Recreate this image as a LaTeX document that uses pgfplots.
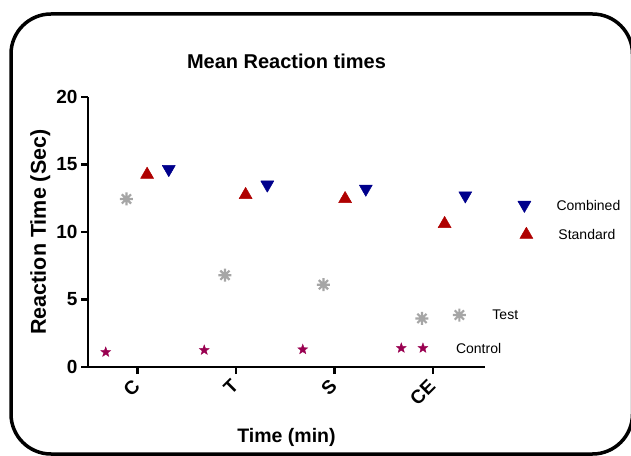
\documentclass[border=0pt]{standalone}
\usepackage{pgfplots}
\pgfplotsset{compat=1.18}
\usepackage{fontspec}
\setmainfont{Liberation Sans}

\definecolor{combblue}{RGB}{0,0,140}
\definecolor{stdred}{RGB}{175,0,0}
\definecolor{testgray}{RGB}{166,166,166}
\definecolor{ctrlpurple}{RGB}{153,0,80}

% filled five-point star
\pgfdeclareplotmark{fstar}{%
  \pgfpathmoveto{\pgfpointpolar{90}{\pgfplotmarksize}}%
  \pgfpathlineto{\pgfpointpolar{126}{0.42\pgfplotmarksize}}%
  \pgfpathlineto{\pgfpointpolar{162}{\pgfplotmarksize}}%
  \pgfpathlineto{\pgfpointpolar{198}{0.42\pgfplotmarksize}}%
  \pgfpathlineto{\pgfpointpolar{234}{\pgfplotmarksize}}%
  \pgfpathlineto{\pgfpointpolar{270}{0.42\pgfplotmarksize}}%
  \pgfpathlineto{\pgfpointpolar{306}{\pgfplotmarksize}}%
  \pgfpathlineto{\pgfpointpolar{342}{0.42\pgfplotmarksize}}%
  \pgfpathlineto{\pgfpointpolar{18}{\pgfplotmarksize}}%
  \pgfpathlineto{\pgfpointpolar{54}{0.42\pgfplotmarksize}}%
  \pgfpathclose
  \pgfusepathqfillstroke}

% eight-spoke asterisk
\pgfdeclareplotmark{burst}{%
  \pgfpathmoveto{\pgfpointpolar{0}{\pgfplotmarksize}}\pgfpathlineto{\pgfpointpolar{180}{\pgfplotmarksize}}%
  \pgfpathmoveto{\pgfpointpolar{45}{\pgfplotmarksize}}\pgfpathlineto{\pgfpointpolar{225}{\pgfplotmarksize}}%
  \pgfpathmoveto{\pgfpointpolar{90}{\pgfplotmarksize}}\pgfpathlineto{\pgfpointpolar{270}{\pgfplotmarksize}}%
  \pgfpathmoveto{\pgfpointpolar{135}{\pgfplotmarksize}}\pgfpathlineto{\pgfpointpolar{315}{\pgfplotmarksize}}%
  \pgfusepathqstroke}

\begin{document}
\begin{tikzpicture}[x=1pt,y=1pt]
\draw[line width=3.5pt, rounded corners=40pt] (11,1) rectangle (632.5,441);

\begin{axis}[
  at={(88pt,88pt)}, anchor=south west,
  scale only axis, width=397pt, height=270pt,
  xmin=-0.5, xmax=3.53, ymin=0, ymax=20,
  clip=false,
  axis lines*=left,
  axis line style={line width=2.5pt},
  every tick/.style={black, line width=2.5pt},
  tick align=outside,
  major tick length=7pt,
  xtick={0,1,2,3},
  xticklabels={C,T,S,CE},
  ytick={0,5,10,15,20},
  /pgf/number format/assume math mode=true,
  tick label style={font=\fontsize{19}{22}\selectfont\bfseries},
  xticklabel style={yshift=-8pt, rotate=45, anchor=east, inner sep=1pt},
  title={Mean Reaction times},
  title style={font=\fontsize{20}{24}\selectfont\bfseries,
    at={(axis description cs:0.5,1)}, anchor=base, yshift=22pt},
  ylabel={Reaction Time (Sec)},
  ylabel style={font=\fontsize{21.5}{24}\selectfont\bfseries,
    at={(axis description cs:-0.106,0.5)}, anchor=base},
  xlabel={Time (min)},
  xlabel style={font=\fontsize{19.5}{24}\selectfont\bfseries,
    at={(axis description cs:0.5,-0.281)}, anchor=base},
]

% Control
\addplot[only marks, mark=fstar, mark size=5.3pt, color=ctrlpurple,
  mark options={line width=0.3pt}] coordinates {
  (-0.32,1.1) (0.68,1.25) (1.68,1.3) (2.68,1.4)
};
% Test
\addplot[only marks, mark=burst, mark size=6.5pt, color=testgray,
  mark options={line width=2.2pt}] coordinates {
  (-0.11,12.45) (0.89,6.8) (1.89,6.1) (2.89,3.6)
};
% Standard
\addplot[only marks, mark=triangle*, mark size=7.5pt, color=stdred,
  mark options={line width=0.5pt, line join=round}] coordinates {
  (0.10,14.25) (1.10,12.75) (2.11,12.45) (3.12,10.6)
};
% Combined
\addplot[only marks, mark=triangle*, mark size=7.5pt, color=combblue,
  mark options={rotate=180, line width=0.5pt, line join=round}] coordinates {
  (0.32,14.65) (1.32,13.5) (2.32,13.2) (3.33,12.7)
};

% scattered legend symbols
\addplot[forget plot, only marks, mark=triangle*, mark size=7.5pt, color=combblue,
  mark options={rotate=180, line width=0.5pt, line join=round}] coordinates {(3.93,12.0)};
\addplot[forget plot, only marks, mark=triangle*, mark size=7.5pt, color=stdred,
  mark options={line width=0.5pt, line join=round}] coordinates {(3.95,9.8)};
\addplot[forget plot, only marks, mark=burst, mark size=6.5pt, color=testgray,
  mark options={line width=2.2pt}] coordinates {(3.27,3.85)};
\addplot[forget plot, only marks, mark=fstar, mark size=5.3pt, color=ctrlpurple,
  mark options={line width=0.3pt}] coordinates {(2.90,1.4)};

\node[anchor=west, font=\fontsize{14}{16}\selectfont] at (axis cs:4.22,12.0) {Combined};
\node[anchor=west, font=\fontsize{14}{16}\selectfont] at (axis cs:4.24,9.8) {Standard};
\node[anchor=west, font=\fontsize{14}{16}\selectfont] at (axis cs:3.57,3.85) {Test};
\node[anchor=west, font=\fontsize{14}{16}\selectfont] at (axis cs:3.20,1.4) {Control};
\end{axis}

\pgfresetboundingbox
\useasboundingbox (0,0) rectangle (631,455);
\end{tikzpicture}
\end{document}
